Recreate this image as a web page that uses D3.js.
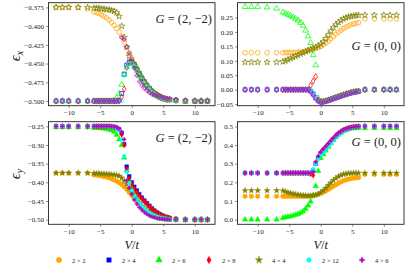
<!DOCTYPE html>
<html>
<head>
<meta charset="utf-8">
<script src="https://cdn.jsdelivr.net/npm/d3@7"></script>
<style>
  body { margin: 0; background: #fff; }
  svg text { font-family: "Liberation Serif", serif; fill: #222; }
</style>
</head>
<body>
<svg width="409" height="270"></svg>
<script>
// V/t grid shared by every series
const V = [-12, -11, -10, -8.5, -7,
  -6, -5.6, -5.2, -4.8, -4.4, -4, -3.6, -3.2, -2.8, -2.4, -2, -1.6, -1.2, -0.8, -0.4,
  0, 0.4, 0.8, 1.2, 1.6, 2, 2.4, 2.8, 3.2, 3.6, 4, 4.4, 4.8, 5.2, 5.6, 6,
  7, 8.5, 10, 11, 12];

const systems = ['2 × 2', '2 × 4', '2 × 6', '2 × 8', '4 × 4', '2 × 12', '4 × 6'];

// eps_x, G = (2,-2)
const exG22_2x2 = [-0.375, -0.375, -0.375, -0.375, -0.377,
  -0.381, -0.382, -0.383, -0.385, -0.387, -0.389, -0.392, -0.395, -0.399, -0.403, -0.408, -0.414, -0.421, -0.428, -0.436,
  -0.443, -0.451, -0.458, -0.464, -0.470, -0.475, -0.479, -0.483, -0.486, -0.489, -0.491, -0.493, -0.495, -0.496, -0.497, -0.498,
  -0.499, -0.5, -0.5, -0.5, -0.5];
const exG22_2x4 = [-0.5, -0.5, -0.5, -0.5, -0.5,
  -0.5, -0.5, -0.5, -0.5, -0.5, -0.5, -0.5, -0.5, -0.5, -0.5, -0.499, -0.490, -0.464, -0.452, -0.448,
  -0.448, -0.451, -0.457, -0.463, -0.469, -0.474, -0.479, -0.483, -0.487, -0.490, -0.492, -0.494, -0.496, -0.497, -0.498, -0.498,
  -0.499, -0.5, -0.5, -0.5, -0.5];
const exG22_2x6 = [-0.5, -0.5, -0.5, -0.5, -0.5,
  -0.5, -0.5, -0.5, -0.5, -0.5, -0.5, -0.5, -0.5, -0.499, -0.496, -0.490, -0.478, -0.465, -0.455, -0.450,
  -0.449, -0.451, -0.456, -0.462, -0.468, -0.474, -0.479, -0.483, -0.487, -0.490, -0.492, -0.494, -0.496, -0.497, -0.498, -0.498,
  -0.499, -0.5, -0.5, -0.5, -0.5];
const exG22_2x8 = [-0.5, -0.5, -0.5, -0.5, -0.5,
  -0.5, -0.5, -0.5, -0.5, -0.5, -0.5, -0.5, -0.5, -0.5, -0.5, -0.5, -0.495, -0.484, -0.455, -0.449,
  -0.448, -0.452, -0.458, -0.464, -0.470, -0.475, -0.480, -0.484, -0.487, -0.490, -0.492, -0.494, -0.496, -0.497, -0.498, -0.498,
  -0.499, -0.5, -0.5, -0.5, -0.5];
const exG22_4x4 = [-0.375, -0.375, -0.375, -0.375, -0.375,
  -0.376, -0.376, -0.376, -0.377, -0.377, -0.378, -0.378, -0.379, -0.380, -0.382, -0.387, -0.400, -0.415, -0.428, -0.440,
  -0.448, -0.453, -0.459, -0.465, -0.471, -0.476, -0.481, -0.485, -0.488, -0.491, -0.493, -0.495, -0.496, -0.497, -0.498, -0.498,
  -0.499, -0.5, -0.5, -0.5, -0.5];
const exG22_2x12 = [-0.5, -0.5, -0.5, -0.5, -0.5,
  -0.5, -0.5, -0.5, -0.5, -0.5, -0.5, -0.5, -0.5, -0.5, -0.5, -0.5, -0.5, -0.466, -0.455, -0.450,
  -0.450, -0.454, -0.460, -0.466, -0.472, -0.477, -0.481, -0.485, -0.488, -0.491, -0.493, -0.495, -0.496, -0.497, -0.498, -0.498,
  -0.5, -0.5, -0.5, -0.5, -0.5];
const exG22_4x6 = [-0.5, -0.5, -0.5, -0.5, -0.5,
  -0.5, -0.5, -0.5, -0.5, -0.5, -0.5, -0.5, -0.5, -0.5, -0.5, -0.5, -0.415, -0.418, -0.428, -0.436,
  -0.444, -0.456, -0.466, -0.474, -0.479, -0.483, -0.486, -0.489, -0.491, -0.492, -0.493, -0.494, -0.495, -0.496, -0.497, -0.497,
  -0.498, -0.499, -0.5, -0.5, -0.5];

// eps_x, G = (0,0)
const exG00_2x2 = [0.128, 0.128, 0.128, 0.128, 0.128,
  0.128, 0.128, 0.128, 0.129, 0.129, 0.129, 0.130, 0.130, 0.131, 0.133, 0.135, 0.137, 0.140, 0.143, 0.146,
  0.150, 0.155, 0.161, 0.168, 0.176, 0.184, 0.192, 0.199, 0.206, 0.212, 0.217, 0.221, 0.225, 0.228, 0.230, 0.232,
  0.245, 0.245, 0.245, 0.245, 0.245];
const exG00_2x4 = [0, 0, 0, 0, 0,
  0, 0, 0, 0, 0, 0, 0, 0, 0, 0, 0, -0.005, -0.015, -0.028, -0.038,
  -0.043, -0.042, -0.040, -0.037, -0.034, -0.031, -0.028, -0.025, -0.022, -0.019, -0.016, -0.013, -0.011, -0.009, -0.007, -0.006,
  0, 0, 0, 0, 0];
const exG00_2x6 = [0.287, 0.287, 0.287, 0.285, 0.281,
  0.268, 0.264, 0.260, 0.256, 0.251, 0.246, 0.240, 0.232, 0.222, 0.205, 0.185, 0.162, 0.120, 0.085, -0.030,
  -0.040, -0.041, -0.039, -0.036, -0.033, -0.030, -0.027, -0.024, -0.021, -0.018, -0.015, -0.012, -0.010, -0.008, -0.006, -0.005,
  0, 0, 0, 0, 0];
const exG00_2x8 = [0, 0, 0, 0, 0,
  0, 0, 0, 0, 0, 0, 0, 0, 0, 0, 0, 0.015, 0.030, 0.045, -0.036,
  -0.042, -0.041, -0.039, -0.036, -0.033, -0.030, -0.027, -0.024, -0.021, -0.018, -0.015, -0.013, -0.010, -0.008, -0.007, -0.005,
  0, 0, 0, 0, 0];
const exG00_4x4 = [0.095, 0.095, 0.095, 0.095, 0.095,
  0.097, 0.100, 0.104, 0.108, 0.112, 0.116, 0.120, 0.124, 0.128, 0.132, 0.136, 0.140, 0.143, 0.147, 0.152,
  0.158, 0.166, 0.177, 0.190, 0.203, 0.215, 0.225, 0.233, 0.240, 0.245, 0.249, 0.252, 0.254, 0.256, 0.257, 0.258,
  0.258, 0.258, 0.258, 0.258, 0.258];
const exG00_2x12 = [0, 0, 0, 0, 0,
  0, 0, 0, 0, 0, 0, 0, 0, 0, 0, 0, -0.003, -0.010, -0.025, -0.039,
  -0.044, -0.043, -0.041, -0.038, -0.035, -0.032, -0.029, -0.026, -0.023, -0.020, -0.017, -0.014, -0.012, -0.010, -0.008, -0.006,
  0, 0, 0, 0, 0];
const exG00_4x6 = [0, 0, 0, 0, 0,
  0, 0, 0, 0, 0, 0, 0, 0, 0, 0, 0, -0.008, -0.020, -0.032, -0.041,
  -0.045, -0.044, -0.042, -0.039, -0.036, -0.033, -0.030, -0.027, -0.024, -0.021, -0.018, -0.015, -0.013, -0.011, -0.009, -0.007,
  0, 0, 0, 0, 0];

// eps_y, G = (2,-2)
const eyG22_2x2 = [-0.375, -0.375, -0.375, -0.375, -0.375,
  -0.380, -0.381, -0.382, -0.383, -0.385, -0.386, -0.388, -0.391, -0.394, -0.397, -0.401, -0.406, -0.412, -0.419, -0.427,
  -0.435, -0.443, -0.451, -0.458, -0.465, -0.471, -0.476, -0.480, -0.484, -0.487, -0.489, -0.491, -0.493, -0.494, -0.495, -0.496,
  -0.498, -0.5, -0.5, -0.5, -0.5];
const eyG22_2x4 = [-0.25, -0.25, -0.25, -0.25, -0.25,
  -0.250, -0.250, -0.250, -0.250, -0.250, -0.250, -0.251, -0.251, -0.252, -0.254, -0.258, -0.268, -0.298, -0.358, -0.384,
  -0.400, -0.412, -0.422, -0.432, -0.441, -0.449, -0.456, -0.463, -0.470, -0.476, -0.481, -0.485, -0.489, -0.492, -0.494, -0.496,
  -0.499, -0.5, -0.5, -0.5, -0.5];
const eyG22_2x6 = [-0.252, -0.252, -0.252, -0.252, -0.252,
  -0.254, -0.254, -0.255, -0.255, -0.256, -0.257, -0.259, -0.261, -0.265, -0.273, -0.285, -0.300, -0.334, -0.368, -0.395,
  -0.415, -0.432, -0.446, -0.458, -0.467, -0.475, -0.481, -0.486, -0.490, -0.493, -0.495, -0.497, -0.498, -0.499, -0.5, -0.5,
  -0.5, -0.5, -0.5, -0.5, -0.5];
const eyG22_2x8 = [-0.25, -0.25, -0.25, -0.25, -0.25,
  -0.250, -0.250, -0.250, -0.250, -0.250, -0.250, -0.250, -0.251, -0.252, -0.254, -0.259, -0.272, -0.300, -0.365, -0.390,
  -0.405, -0.416, -0.426, -0.435, -0.444, -0.451, -0.458, -0.465, -0.471, -0.477, -0.482, -0.486, -0.489, -0.492, -0.494, -0.496,
  -0.499, -0.5, -0.5, -0.5, -0.5];
const eyG22_4x4 = [-0.375, -0.375, -0.375, -0.375, -0.375,
  -0.376, -0.376, -0.376, -0.377, -0.377, -0.378, -0.378, -0.379, -0.380, -0.381, -0.383, -0.388, -0.396, -0.405, -0.415,
  -0.425, -0.435, -0.445, -0.455, -0.463, -0.470, -0.476, -0.481, -0.485, -0.488, -0.491, -0.493, -0.495, -0.496, -0.497, -0.498,
  -0.499, -0.5, -0.5, -0.5, -0.5];
const eyG22_2x12 = [-0.25, -0.25, -0.25, -0.25, -0.25,
  -0.250, -0.250, -0.250, -0.250, -0.250, -0.250, -0.251, -0.251, -0.252, -0.255, -0.262, -0.285, -0.330, -0.372, -0.402,
  -0.422, -0.436, -0.447, -0.456, -0.464, -0.471, -0.477, -0.482, -0.486, -0.489, -0.492, -0.494, -0.496, -0.497, -0.498, -0.499,
  -0.5, -0.5, -0.5, -0.5, -0.5];
const eyG22_4x6 = [-0.25, -0.25, -0.25, -0.25, -0.25,
  -0.250, -0.250, -0.250, -0.250, -0.250, -0.250, -0.250, -0.250, -0.251, -0.253, -0.257, -0.265, -0.285, -0.395, -0.415,
  -0.432, -0.447, -0.458, -0.467, -0.474, -0.480, -0.485, -0.489, -0.492, -0.494, -0.496, -0.497, -0.498, -0.499, -0.499, -0.5,
  -0.5, -0.5, -0.5, -0.5, -0.5];

// eps_y, G = (0,0)
const eyG00_2x2 = [0.125, 0.125, 0.125, 0.125, 0.125,
  0.125, 0.125, 0.125, 0.125, 0.125, 0.125, 0.125, 0.125, 0.125, 0.125, 0.126, 0.127, 0.129, 0.132, 0.136,
  0.141, 0.147, 0.154, 0.162, 0.170, 0.179, 0.187, 0.195, 0.202, 0.208, 0.213, 0.217, 0.220, 0.222, 0.224, 0.225,
  0.242, 0.242, 0.242, 0.242, 0.242];
const eyG00_2x4 = [0.25, 0.25, 0.25, 0.25, 0.25,
  0.25, 0.25, 0.25, 0.25, 0.25, 0.25, 0.25, 0.25, 0.25, 0.25, 0.25, 0.250, 0.262, 0.300, 0.330,
  0.355, 0.370, 0.385, 0.400, 0.415, 0.430, 0.445, 0.458, 0.468, 0.477, 0.484, 0.489, 0.493, 0.496, 0.498, 0.499,
  0.5, 0.5, 0.5, 0.5, 0.5];
const eyG00_2x6 = [0, 0, 0, 0, 0,
  0.008, 0.012, 0.015, 0.018, 0.021, 0.025, 0.030, 0.036, 0.045, 0.058, 0.075, 0.097, 0.130, 0.180, 0.260,
  0.330, 0.350, 0.370, 0.390, 0.410, 0.428, 0.444, 0.457, 0.467, 0.475, 0.481, 0.485, 0.488, 0.490, 0.491, 0.492,
  0.49, 0.49, 0.49, 0.49, 0.49];
const eyG00_2x8 = [0.25, 0.25, 0.25, 0.25, 0.25,
  0.25, 0.25, 0.25, 0.25, 0.25, 0.25, 0.25, 0.25, 0.25, 0.25, 0.25, 0.245, 0.238, 0.305, 0.335,
  0.360, 0.376, 0.391, 0.406, 0.421, 0.436, 0.450, 0.462, 0.472, 0.480, 0.486, 0.491, 0.494, 0.497, 0.498, 0.499,
  0.5, 0.5, 0.5, 0.5, 0.5];
const eyG00_4x4 = [0.156, 0.156, 0.156, 0.156, 0.156,
  0.155, 0.150, 0.146, 0.142, 0.139, 0.136, 0.134, 0.132, 0.130, 0.129, 0.128, 0.128, 0.129, 0.132, 0.137,
  0.145, 0.156, 0.170, 0.184, 0.198, 0.211, 0.222, 0.231, 0.238, 0.243, 0.246, 0.248, 0.249, 0.250, 0.250, 0.250,
  0.25, 0.25, 0.25, 0.25, 0.25];
const eyG00_2x12 = [0.25, 0.25, 0.25, 0.25, 0.25,
  0.25, 0.25, 0.25, 0.25, 0.25, 0.25, 0.25, 0.25, 0.25, 0.25, 0.25, 0.252, 0.270, 0.300, 0.325,
  0.345, 0.362, 0.378, 0.394, 0.410, 0.425, 0.440, 0.454, 0.465, 0.474, 0.482, 0.487, 0.491, 0.494, 0.497, 0.498,
  0.5, 0.5, 0.5, 0.5, 0.5];
const eyG00_4x6 = [0.25, 0.25, 0.25, 0.25, 0.25,
  0.25, 0.25, 0.25, 0.25, 0.25, 0.25, 0.25, 0.25, 0.25, 0.25, 0.25, 0.250, 0.255, 0.310, 0.340,
  0.362, 0.378, 0.393, 0.408, 0.423, 0.437, 0.450, 0.462, 0.472, 0.480, 0.486, 0.490, 0.494, 0.496, 0.498, 0.499,
  0.5, 0.5, 0.5, 0.5, 0.5];

const xTicks = [-10, -5, 0, 5, 10];
const yTicksA = [-0.500, -0.475, -0.450, -0.425, -0.400, -0.375];
const yTicksB = [-0.05, 0.00, 0.05, 0.10, 0.15, 0.20, 0.25];
const yTicksC = [-0.50, -0.45, -0.40, -0.35, -0.30, -0.25];
const yTicksD = [0.0, 0.1, 0.2, 0.3, 0.4, 0.5];

// marker style per system (legend order)
const colors = ['#ffa500', '#0000ff', '#00ff00', '#ff0000', '#808000', '#00ffff', '#c000c0'];
const shapes = [d3.symbolCircle, d3.symbolSquare, d3.symbolTriangle, d3.symbolDiamond, d3.symbolStar, d3.symbolCircle, d3.symbolCross];
const sizes = [17, 15, 14, 11, 12, 12, 8];

const svg = d3.select('svg');
const minus = s => s.replace(/-/g, '\u2212');

function drawPanel(box, yDomain, yTicks, yFmt, seriesList, filled, gLabel, gPos) {
  const x = d3.scaleLinear().domain([-13.2, 13.2]).range([box.x, box.x + box.w]);
  const y = d3.scaleLinear().domain(yDomain).range([box.y + box.h, box.y]);
  const g = svg.append('g');

  // data
  seriesList.forEach((vals, i) => {
    const sym = d3.symbol().type(shapes[i]).size(sizes[i])();
    g.append('g').selectAll('path')
      .data(vals.map((v, k) => [V[k], v]))
      .enter().append('path')
      .attr('d', sym)
      .attr('transform', d => `translate(${x(d[0])},${y(d[1])})`)
      .attr('fill', filled ? colors[i] : 'none')
      .attr('stroke', colors[i])
      .attr('stroke-width', filled ? 0.3 : (i === 6 ? 0.6 : 0.75));
  });

  // axes
  const xa = g.append('g')
    .attr('transform', `translate(0,${box.y + box.h})`)
    .call(d3.axisBottom(x).tickValues(xTicks).tickSize(2.5).tickPadding(2).tickFormat(d => minus(String(d))));
  const ya = g.append('g')
    .attr('transform', `translate(${box.x},0)`)
    .call(d3.axisLeft(y).tickValues(yTicks).tickSize(2.5).tickPadding(2).tickFormat(d => minus(d3.format(yFmt)(d))));
  [xa, ya].forEach(a => {
    a.select('.domain').remove();
    a.selectAll('line').attr('stroke', '#444').attr('stroke-width', 0.6);
    a.selectAll('text').attr('font-family', '"Liberation Serif", serif').attr('font-size', 7).attr('fill', '#333');
  });

  g.append('rect')
    .attr('x', box.x).attr('y', box.y).attr('width', box.w).attr('height', box.h)
    .attr('fill', 'none').attr('stroke', '#222').attr('stroke-width', 0.9);

  // G annotation
  const t = g.append('text')
    .attr('x', box.x + box.w - 3).attr('y', gPos)
    .attr('text-anchor', 'end').attr('font-size', 12.5).attr('fill', '#333');
  t.append('tspan').attr('font-style', 'italic').text('G');
  t.append('tspan').text(' = ' + gLabel);
}

const boxTL = { x: 48.5, y: 2.7, w: 166.5, h: 103 };
const boxTR = { x: 237.5, y: 2.7, w: 166.5, h: 103 };
const boxBL = { x: 48.5, y: 121.7, w: 166.5, h: 102.6 };
const boxBR = { x: 237.5, y: 121.7, w: 166.5, h: 102.6 };

drawPanel(boxTL, [-0.50625, -0.36875], yTicksA, '.3f',
  [exG22_2x2, exG22_2x4, exG22_2x6, exG22_2x8, exG22_4x4, exG22_2x12, exG22_4x6], false, '(2, \u22122)', 22.5);
drawPanel(boxTR, [-0.0555, 0.3012], yTicksB, '.2f',
  [exG00_2x2, exG00_2x4, exG00_2x6, exG00_2x8, exG00_4x4, exG00_2x12, exG00_4x6], false, '(0, 0)', 50);
drawPanel(boxBL, [-0.5125, -0.2375], yTicksC, '.2f',
  [eyG22_2x2, eyG22_2x4, eyG22_2x6, eyG22_2x8, eyG22_4x4, eyG22_2x12, eyG22_4x6], true, '(2, \u22122)', 142);
drawPanel(boxBR, [-0.025, 0.525], yTicksD, '.1f',
  [eyG00_2x2, eyG00_2x4, eyG00_2x6, eyG00_2x8, eyG00_4x4, eyG00_2x12, eyG00_4x6], true, '(0, 0)', 146);

// axis labels
function yLabel(cx, cy, sub) {
  const t = svg.append('text')
    .attr('transform', `translate(${cx},${cy}) rotate(-90)`)
    .attr('text-anchor', 'middle')
    .attr('font-family', '"DejaVu Serif", serif').attr('font-style', 'italic').attr('font-size', 15);
  t.append('tspan').text('\u03f5');
  t.append('tspan').attr('font-size', 10).attr('dy', 3).text(sub);
}
yLabel(20, 56, 'x');
yLabel(20, 174, 'y');

[boxBL, boxBR].forEach(b => {
  const t = svg.append('text')
    .attr('x', b.x + b.w / 2).attr('y', 249)
    .attr('text-anchor', 'middle').attr('font-size', 12.5);
  t.append('tspan').attr('font-style', 'italic').text('V');
  t.append('tspan').text('/');
  t.append('tspan').attr('font-style', 'italic').text('t');
});

// legend
const legX = [59, 109, 159, 209, 259, 309, 362];
systems.forEach((s, i) => {
  svg.append('path')
    .attr('d', d3.symbol().type(shapes[i]).size(sizes[i] + 6)())
    .attr('transform', `translate(${legX[i]},260)`)
    .attr('fill', colors[i]).attr('stroke', colors[i]).attr('stroke-width', 0.3);
  svg.append('text')
    .attr('x', legX[i] + 13).attr('y', 262.5)
    .attr('font-size', 6.5).attr('fill', '#444')
    .text(s);
});
</script>
</body>
</html>
